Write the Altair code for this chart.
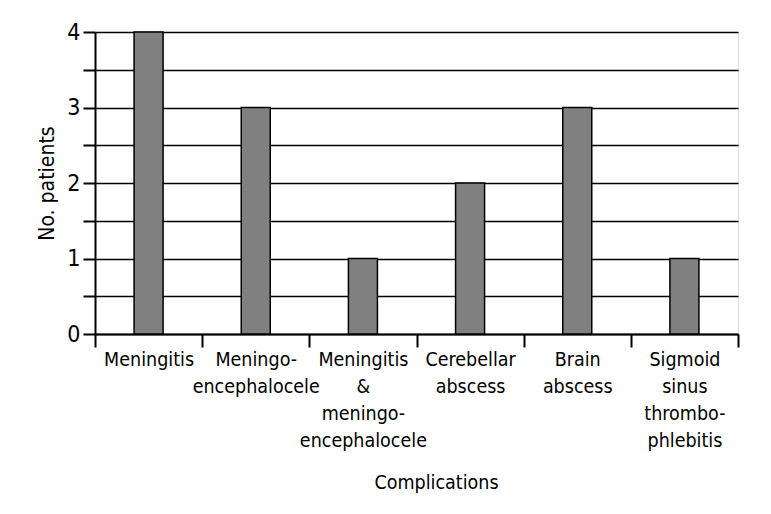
import altair as alt
import pandas as pd

categories = [
    "Meningitis",
    "Meningo-\nencephalocele",
    "Meningitis\n&\nmeningo-\nencephalocele",
    "Cerebellar\nabscess",
    "Brain\nabscess",
    "Sigmoid\nsinus\nthrombo-\nphlebitis",
]
counts = [4, 3, 1, 2, 3, 1]
y_ticks = [0, 0.5, 1, 1.5, 2, 2.5, 3, 3.5, 4]

df = pd.DataFrame({"cat": categories, "n": counts})

FONT = "DejaVu Sans Condensed, DejaVu Sans, sans-serif"

x_enc = alt.X(
    "cat:N",
    sort=categories,
    scale=alt.Scale(paddingInner=0, paddingOuter=0),
    axis=alt.Axis(
        title="Complications",
        labelAngle=0,
        labelExpr="split(datum.label, '\\n')",
        labelFont=FONT,
        labelFontSize=19.5,
        labelLineHeight=27,
        labelColor="black",
        labelPadding=3,
        labelBaseline="top",
        tickBand="extent",
        tickSize=13,
        tickWidth=2,
        tickColor="black",
        domainColor="black",
        domainWidth=2,
        titleFont=FONT,
        titleFontSize=19.5,
        titleFontWeight="normal",
        titleColor="black",
        titleX=341,
        titleY=154,
        titleBaseline="alphabetic",
        titleAnchor="start",
        titleAlign="center",
        grid=False,
        labelLimit=300,
    ),
)

y_enc = alt.Y(
    "n:Q",
    scale=alt.Scale(domain=[0, 4], nice=False),
    axis=alt.Axis(
        title="No. patients",
        values=y_ticks,
        labelExpr="datum.value % 1 == 0 ? format(datum.value, 'd') : ''",
        labelFont=FONT,
        labelFontSize=23,
        labelColor="black",
        labelPadding=3,
        tickSize=12,
        tickWidth=2,
        tickColor="black",
        domainColor="black",
        domainWidth=2,
        grid=True,
        gridColor="black",
        gridWidth=1.6,
        gridOpacity=1,
        titleFont=FONT,
        titleFontSize=21,
        titleFontWeight="normal",
        titleColor="black",
        titlePadding=9,
    ),
)

bars = alt.Chart(df).mark_bar(
    size=29, color="#808080", stroke="black", strokeWidth=1.5
).encode(x=x_enc, y=y_enc)

chart = bars.properties(
    width=643,
    height=302,
    autosize=alt.AutoSizeParams(type="none"),
    padding={"left": 87, "top": 24, "right": 25, "bottom": 170},
).configure_view(stroke="black", strokeWidth=2).configure(background="white")

chart.save("out.html", embed_options={"renderer": "svg", "actions": False})
